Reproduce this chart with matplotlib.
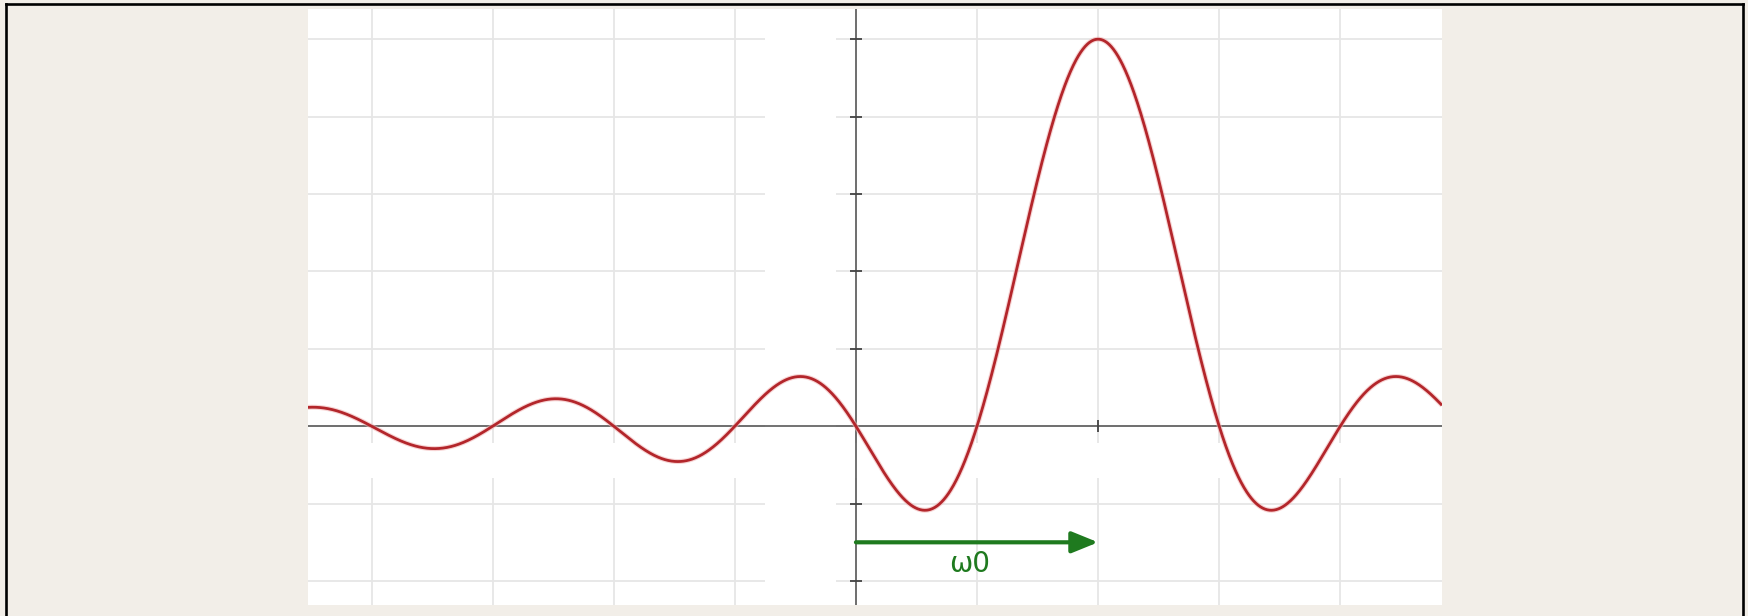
import numpy as np
import matplotlib
matplotlib.use("Agg")
import matplotlib.pyplot as plt
from matplotlib.lines import Line2D

# ---- values ----
omega0 = 2.0            # centre of the main lobe (grid units)
peak_value = 5.0        # height of the main lobe (grid units)
x_range = (-4.525, 4.84)
y_range = (-2.31, 5.39)
x_grid = [-4, -3, -2, -1, 0, 1, 2, 3, 4]
y_grid = [-2, -1, 0, 1, 2, 3, 4, 5]
y_axis_ticks = [-2, -1, 1, 2, 3, 4, 5]
x_axis_ticks = [2]
arrow_y = -1.5
label_text = "ω0"
label_pos = (0.94, -1.78)

W, H, DPI = 1748, 616, 100
fig = plt.figure(figsize=(W / DPI, H / DPI), dpi=DPI, facecolor="#f2eee8")

# outer frame (top, left, right)
for (xs, ys) in [((6 / W, 1743 / W), (1 - 4 / H, 1 - 4 / H)),
                 ((6 / W, 6 / W), (0, 1 - 4 / H)),
                 ((1743 / W, 1743 / W), (0, 1 - 4 / H))]:
    fig.add_artist(Line2D(xs, ys, color="black", lw=1.9, transform=fig.transFigure))

ax = fig.add_axes([308 / W, 11 / H, (1442 - 308) / W, (605 - 9) / H])
ax.set_facecolor("white")
ax.set_xlim(*x_range)
ax.set_ylim(*y_range)
for s in ax.spines.values():
    s.set_visible(False)
ax.set_xticks([])
ax.set_yticks([])

# grid
for gx in x_grid:
    ax.axvline(gx, color="#e6e6e6", lw=1.3, zorder=1)
for gy in y_grid:
    ax.axhline(gy, color="#e6e6e6", lw=1.3, zorder=1)

# erased strips (where labels were removed)
ax.axvspan(-0.75, -0.165, color="white", zorder=2, lw=0)
ax.axhspan(-0.67, -0.22, color="white", zorder=2, lw=0)

# axes lines
ax.axhline(0, color="#5a5a5a", lw=1.2, zorder=3)
ax.axvline(0, color="#5a5a5a", lw=1.2, zorder=3)
ax.plot([0] * len(y_axis_ticks), y_axis_ticks, ls="none", marker="_",
        ms=8, mew=1.3, color="#444444", zorder=4)
ax.plot(x_axis_ticks, [0] * len(x_axis_ticks), ls="none", marker="|",
        ms=8, mew=1.3, color="#444444", zorder=4)

# sinc curve
x = np.linspace(x_range[0], x_range[1], 2000)
y = peak_value * np.sinc(x - omega0)
ax.plot(x, y, color="#f2b8b8", lw=3.6, alpha=0.6, zorder=5, solid_capstyle="butt")
ax.plot(x, y, color="#b3262b", lw=2.0, zorder=6, solid_capstyle="butt")

# arrow
ax.annotate("", xy=(omega0, arrow_y), xytext=(0, arrow_y),
            arrowprops=dict(arrowstyle="-|>,head_length=1.6,head_width=0.65",
                            color="#1f7a1f", lw=3.0, mutation_scale=10,
                            shrinkA=0, shrinkB=0), zorder=7)
ax.text(label_pos[0], label_pos[1], label_text, color="#1f7a1f", fontsize=20,
        ha="center", va="center", family="DejaVu Sans", zorder=7)

fig.savefig("out.png", dpi=DPI, facecolor=fig.get_facecolor())
